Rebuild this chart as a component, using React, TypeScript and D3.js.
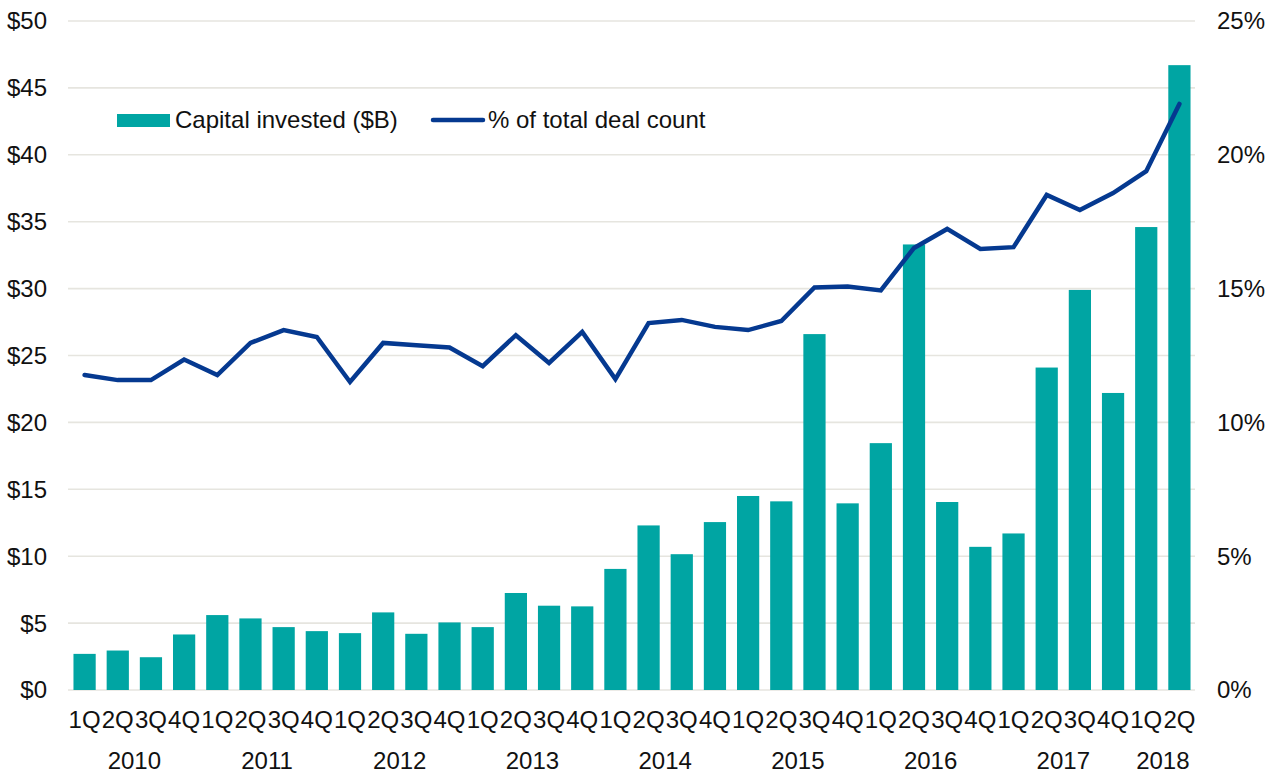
import React from "react";
import * as d3 from "d3";

const quarters = [
  "1Q","2Q","3Q","4Q","1Q","2Q","3Q","4Q","1Q","2Q","3Q","4Q",
  "1Q","2Q","3Q","4Q","1Q","2Q","3Q","4Q","1Q","2Q","3Q","4Q",
  "1Q","2Q","3Q","4Q","1Q","2Q","3Q","4Q","1Q","2Q",
];
const years = ["2010","2011","2012","2013","2014","2015","2016","2017","2018"];
const capitalInvested = [
  2.7, 2.95, 2.45, 4.15, 5.6, 5.35, 4.7, 4.4, 4.25, 5.8, 4.2, 5.05,
  4.7, 7.25, 6.3, 6.25, 9.05, 12.3, 10.15, 12.55, 14.5, 14.1, 26.6, 13.95,
  18.45, 33.3, 14.05, 10.7, 11.7, 24.1, 29.9, 22.2, 34.6, 46.7,
];
const dealCountPct = [
  11.77, 11.58, 11.58, 12.35, 11.77, 12.97, 13.45, 13.19, 11.51, 12.97, 12.88, 12.8,
  12.1, 13.26, 12.22, 13.38, 11.62, 13.71, 13.83, 13.57, 13.45, 13.79, 15.04, 15.08,
  14.93, 16.52, 17.23, 16.48, 16.55, 18.5, 17.94, 18.57, 19.39, 21.9,
];
const leftTicks = [0, 5, 10, 15, 20, 25, 30, 35, 40, 45, 50];
const rightTicks = [0, 5, 10, 15, 20, 25];

const W = 1279;
const H = 775;
const FONT = "Arial, 'Liberation Sans', sans-serif";

export default function App() {
  const idx = quarters.map((_, i) => i);
  const x = d3.scaleBand<number>().domain(idx).range([68, 1196]).paddingInner(0.33).paddingOuter(0.165);
  const yL = d3.scaleLinear().domain([0, 50]).range([690, 21]);
  const yR = d3.scaleLinear().domain([0, 25]).range([690, 21]);
  const cx = (i: number) => (x(i) as number) + x.bandwidth() / 2;

  const line = d3
    .line<number>()
    .x((_, i) => cx(i))
    .y((d) => yR(d));

  return (
    <svg width={W} height={H} style={{ position: "absolute", left: 0, top: 0, background: "#fff" }} fontFamily={FONT}>
      {leftTicks.map((t) => (
        <line key={"g" + t} x1={68} x2={1195} y1={yL(t)} y2={yL(t)} stroke="#e6e5df" strokeWidth={1.6} />
      ))}
      {capitalInvested.map((v, i) => (
        <rect key={"b" + i} x={x(i)} y={yL(v)} width={x.bandwidth()} height={yL(0) - yL(v)} fill="#00a5a3" />
      ))}
      <path d={line(dealCountPct) || ""} fill="none" stroke="#053990" strokeWidth={4.5} strokeLinejoin="miter" strokeLinecap="round" />
      {leftTicks.map((t) => (
        <text key={"l" + t} x={47} y={yL(t)} dy="0.35em" textAnchor="end" fontSize={24} fill="#111">
          {"$" + t}
        </text>
      ))}
      {rightTicks.map((t) => (
        <text key={"r" + t} x={1217} y={yR(t)} dy="0.35em" textAnchor="start" fontSize={24} fill="#111">
          {t + "%"}
        </text>
      ))}
      {quarters.map((q, i) => (
        <text key={"q" + i} x={cx(i)} y={728} textAnchor="middle" fontSize={24} fill="#111">
          {q}
        </text>
      ))}
      {years.map((yr, k) => {
        const first = k * 4;
        const last = Math.min(first + 3, quarters.length - 1);
        const mid = (cx(first) + cx(last)) / 2;
        return (
          <text key={"y" + yr} x={mid} y={769} textAnchor="middle" fontSize={24} fill="#111">
            {yr}
          </text>
        );
      })}
      <g>
        <rect x={117} y={114} width={53} height={13} fill="#00a5a3" />
        <text x={175} y={120} dy="0.35em" fontSize={24} fill="#111">Capital invested ($B)</text>
        <line x1={433} x2={483} y1={120} y2={120} stroke="#053990" strokeWidth={4.5} strokeLinecap="round" />
        <text x={488} y={120} dy="0.35em" fontSize={24} fill="#111">% of total deal count</text>
      </g>
    </svg>
  );
}
